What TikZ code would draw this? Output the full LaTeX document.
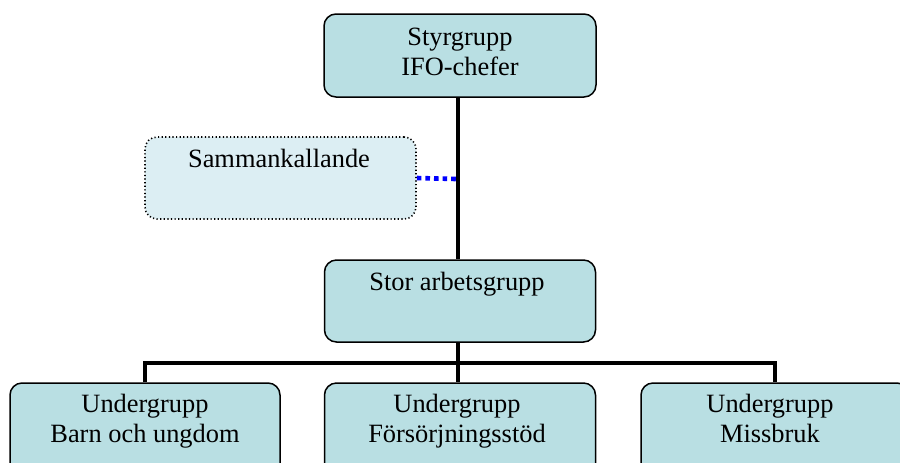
\documentclass[tikz,border=0pt]{standalone}
\usepackage{fontspec}
\setmainfont{Liberation Serif}
\definecolor{boxfill}{HTML}{B9DFE3}
\definecolor{lightfill}{HTML}{DCEEF3}
\begin{document}
\begin{tikzpicture}[x=0.5pt,y=-0.5pt,
  orgbox/.style={draw=black, line width=0.75pt, fill=boxfill, rounded corners=6pt, inner sep=0pt},
  softbox/.style={draw=black, line width=0.8pt, dash pattern=on 0.6pt off 1.2pt, fill=lightfill, rounded corners=6pt, inner sep=0pt},
  lbl/.style={font=\fontsize{13.2}{16}\selectfont, anchor=base, inner sep=0pt},
  conn/.style={line width=2pt, black},
  link/.style={line width=2.3pt, blue, dash pattern=on 2.3pt off 2pt}]
\useasboundingbox (0,0) rectangle (900,462);
\clip (0,0) rectangle (900,462);
% boxes
\node[orgbox, minimum width=136pt, minimum height=41.5pt] (styr) at (460,55.5) {};
\node[softbox, minimum width=135.5pt, minimum height=41pt] (samm) at (280.5,178) {};
\node[orgbox, minimum width=135.5pt, minimum height=41pt] (stor) at (460,301) {};
\node[orgbox, minimum width=135pt, minimum height=48pt] (b1) at (145,431) {};
\node[orgbox, minimum width=135.5pt, minimum height=48pt] (b2) at (460,431) {};
\node[orgbox, minimum width=134pt, minimum height=48pt] (b3) at (775,431) {};
% texts
\node[lbl] (t1) at (460,45) {Styrgrupp};
\node[lbl] (t2) at (460,75) {IFO-chefer};
\node[lbl] (t3) at (279,167) {Sammankallande};
\node[lbl] (t4) at (457,290) {Stor arbetsgrupp};
\node[lbl] (t5) at (145,412) {Undergrupp};
\node[lbl] (t6) at (145,442) {Barn och ungdom};
\node[lbl] (t7) at (457,412) {Undergrupp};
\node[lbl] (t8) at (457,442) {Försörjningsstöd};
\node[lbl] (t9) at (770,412) {Undergrupp};
\node[lbl] (t10) at (770,442) {Missbruk};
% connectors
\coordinate (trunk) at (456,179);
\coordinate (bar) at (458,363);
\draw[conn] (458,0 |- styr.south) -- (458,0 |- stor.north);
\draw[link] (samm.east) -- (trunk);
\draw[conn] (458,0 |- stor.south) -- (bar);
\draw[conn] (b1.north) |- (bar) -| (b3.north);
\draw[conn] (bar) -- (458,0 |- b2.north);
\end{tikzpicture}
\end{document}
